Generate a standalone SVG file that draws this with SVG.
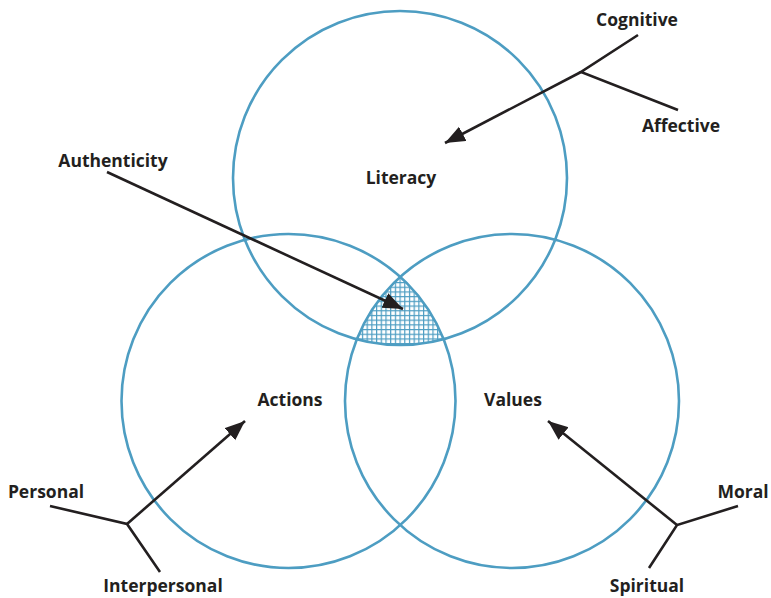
<svg xmlns="http://www.w3.org/2000/svg" width="771" height="598" viewBox="0 0 771 598">
  <style>
    .ring { fill: none; stroke: #4d9dc2; stroke-width: 2.6; }
    .lead { fill: none; stroke: #231f20; stroke-width: 2.6; stroke-linecap: butt; }
    .label { font-family: "Open Sans", "Liberation Sans", sans-serif; font-weight: 700; font-size: 17.5px; fill: #231f20; text-anchor: middle; }
  </style>
  <defs>
    <pattern id="grid" patternUnits="userSpaceOnUse" width="4.7" height="4.7">
      <rect width="4.7" height="4.7" fill="#ffffff"/>
      <path d="M0 0.6 H4.7 M0.6 0 V4.7" stroke="#4d9dc2" stroke-width="1.2"/>
    </pattern>
    <marker id="head" markerUnits="userSpaceOnUse" markerWidth="22" markerHeight="18" refX="20" refY="8" orient="auto">
      <path d="M0 0 L20 8 L0 16 Z" fill="#231f20"/>
    </marker>
  </defs>

  <!-- shared region of all three circles -->
  <g id="authenticity-zone">
    <path d="M400 277 A167 167 0 0 1 443.2 339.3 A167 167 0 0 1 356.8 339.3 A167 167 0 0 1 400 277 Z" fill="url(#grid)" stroke="none"/>
  </g>

  <g id="literacy">
    <circle class="ring" cx="400" cy="178" r="167"/>
    <text class="label" x="401" y="184">Literacy</text>
  </g>
  <g id="actions">
    <circle class="ring" cx="288.5" cy="401" r="167"/>
    <text class="label" x="290" y="406">Actions</text>
  </g>
  <g id="values">
    <circle class="ring" cx="512" cy="401" r="167"/>
    <text class="label" x="513" y="406">Values</text>
  </g>

  <g id="authenticity">
    <text class="label" x="113" y="167">Authenticity</text>
  </g>
  <g id="cognitive">
    <text class="label" x="637" y="26">Cognitive</text>
  </g>
  <g id="affective">
    <text class="label" x="681" y="132">Affective</text>
  </g>
  <g id="personal">
    <text class="label" x="46" y="498">Personal</text>
  </g>
  <g id="interpersonal">
    <text class="label" x="163" y="592">Interpersonal</text>
  </g>
  <g id="moral">
    <text class="label" x="743" y="498">Moral</text>
  </g>
  <g id="spiritual">
    <text class="label" x="647" y="592">Spiritual</text>
  </g>

  <g id="connectors">
    <!-- Cognitive / Affective into Literacy -->
    <path class="lead" d="M638 35 L581 72 L678 110"/>
    <path class="lead" d="M581 72 L445 143" marker-end="url(#head)"/>
    <!-- Authenticity into the shared region -->
    <path class="lead" d="M107 172 L403 309" marker-end="url(#head)"/>
    <!-- Personal / Interpersonal into Actions -->
    <path class="lead" d="M50 506 L127 524 L160 572"/>
    <path class="lead" d="M127 524 L245 421" marker-end="url(#head)"/>
    <!-- Moral / Spiritual into Values -->
    <path class="lead" d="M738 506 L677 525 L649 568"/>
    <path class="lead" d="M677 525 L548 421" marker-end="url(#head)"/>
  </g>
</svg>
